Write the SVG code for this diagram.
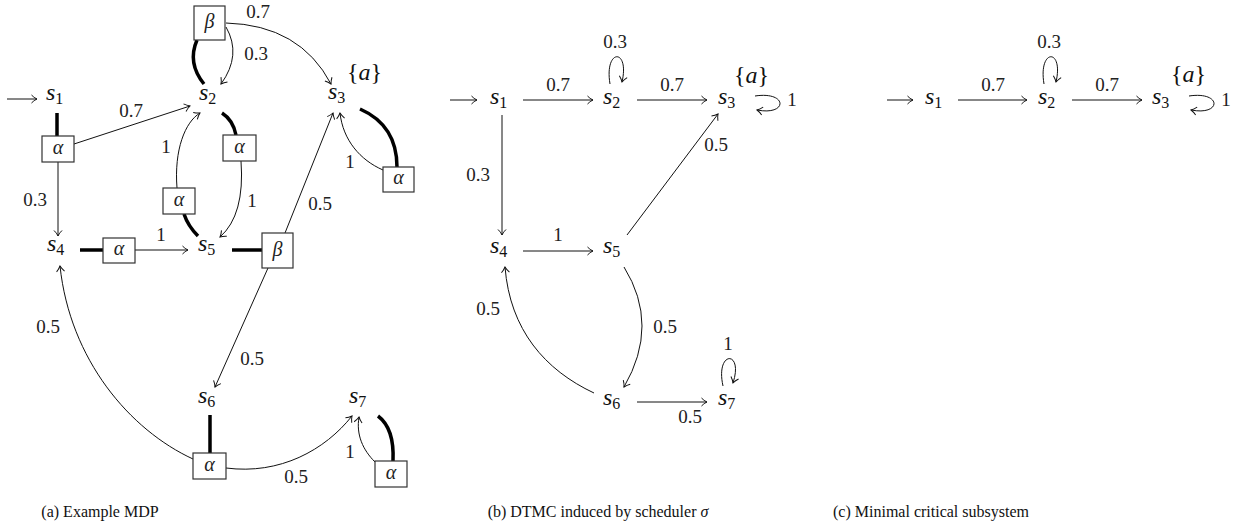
<svg xmlns="http://www.w3.org/2000/svg" width="1242" height="531" viewBox="0 0 1242 531">
<style>
.st{font-family:'Liberation Serif','DejaVu Serif',serif;font-style:italic;font-size:24px;fill:#111}
.sub{font-style:normal;font-size:16px}
.lbl{font-family:'Liberation Serif','DejaVu Serif',serif;font-size:19px;fill:#222;text-anchor:middle}
.act{font-family:'Liberation Serif','DejaVu Serif',serif;font-style:italic;font-size:20px;fill:#222;text-anchor:middle}
.box{fill:#fff;stroke:#333;stroke-width:1.2}
.e{fill:none;stroke:#111;stroke-width:1;marker-end:url(#ah)}
.th{fill:none;stroke:#000;stroke-width:3.5}
.cap{font-family:'Liberation Serif','DejaVu Serif',serif;font-size:16px;fill:#111;text-anchor:middle}
</style>
<defs>
<marker id="ah" viewBox="-7 -5 8 10" markerWidth="8" markerHeight="10" refX="0" refY="0" orient="auto" markerUnits="userSpaceOnUse">
<path d="M -5.5 -4 C -3 -1.5 -1 -0.5 0 0 C -1 0.5 -3 1.5 -5.5 4" fill="none" stroke="#111" stroke-width="1"/>
</marker>
</defs>
<rect width="1242" height="531" fill="#fff"/>

<g id="connectors">
<!-- panel a -->
<path class="e" d="M 7 99 L 37 99"/>
<path class="th" d="M 57 113 L 57 136"/>
<path class="e" d="M 58 162 L 58 236"/>
<path class="e" d="M 74 144 L 190 106"/>
<path class="th" d="M 197 40 Q 187 63 204 84"/>
<path class="e" d="M 226 23 Q 300 25 331 84"/>
<path class="e" d="M 226 27 Q 242 55 221 84"/>
<path class="th" d="M 222 113 Q 233 120 236 135"/>
<path class="e" d="M 241 161 Q 245 215 220 237"/>
<path class="th" d="M 184 214 Q 188 226 198 236"/>
<path class="e" d="M 177 188 C 174 150 185 122 200 113"/>
<path class="th" d="M 80 250 L 103 250"/>
<path class="e" d="M 135 250 L 188 250"/>
<path class="th" d="M 232 250 L 262 250"/>
<path class="e" d="M 285 233 L 333 113"/>
<path class="e" d="M 268 268 L 215 387"/>
<path class="th" d="M 210 415 L 210 453"/>
<path class="e" d="M 226 468 C 280 475 325 450 352 416"/>
<path class="e" d="M 193 459 C 130 430 70 360 60 266"/>
<path class="th" d="M 393 461 C 394 440 390 425 378 416"/>
<path class="e" d="M 375 462 C 363 450 356 435 359 417"/>
<path class="th" d="M 360 109 C 385 120 397 140 397 167"/>
<path class="e" d="M 383 170 C 360 160 343 140 340 113"/>
<!-- panel b -->
<path class="e" d="M 450 100 L 477 100"/>
<path class="e" d="M 523 100 L 593 100"/>
<path class="e" d="M 610 84 C 604 48 630 48 622 82"/>
<path class="e" d="M 637 100 L 707 100"/>
<path class="e" d="M 755 96 C 788 91 788 116 757 110"/>
<path class="e" d="M 502 115 L 502 235"/>
<path class="e" d="M 523 251 L 593 251"/>
<path class="e" d="M 627 235 L 718 114"/>
<path class="e" d="M 624 267 Q 660 325 624 387"/>
<path class="e" d="M 594 393 C 545 370 510 330 505 267"/>
<path class="e" d="M 637 402 L 707 402"/>
<path class="e" d="M 723 386 C 715 350 744 350 733 383"/>
<!-- panel c -->
<path class="e" d="M 887 100 L 913 100"/>
<path class="e" d="M 958 100 L 1027 100"/>
<path class="e" d="M 1044 84 C 1038 48 1064 48 1056 82"/>
<path class="e" d="M 1072 100 L 1142 100"/>
<path class="e" d="M 1189 96 C 1222 91 1222 116 1191 110"/>
</g>

<g id="edge-labels">
<text class="lbl" x="131" y="117">0.7</text>
<text class="lbl" x="35" y="206">0.3</text>
<text class="lbl" x="258" y="18">0.7</text>
<text class="lbl" x="256" y="60">0.3</text>
<text class="lbl" x="252" y="207">1</text>
<text class="lbl" x="166" y="153">1</text>
<text class="lbl" x="161" y="241">1</text>
<text class="lbl" x="320" y="210">0.5</text>
<text class="lbl" x="252" y="365">0.5</text>
<text class="lbl" x="296" y="483">0.5</text>
<text class="lbl" x="48" y="333">0.5</text>
<text class="lbl" x="350" y="458">1</text>
<text class="lbl" x="350" y="168">1</text>

<text class="lbl" x="558" y="91">0.7</text>
<text class="lbl" x="615" y="48">0.3</text>
<text class="lbl" x="672" y="91">0.7</text>
<text class="lbl" x="792" y="106">1</text>
<text class="lbl" x="478" y="181">0.3</text>
<text class="lbl" x="558" y="241">1</text>
<text class="lbl" x="716" y="151">0.5</text>
<text class="lbl" x="665" y="333">0.5</text>
<text class="lbl" x="488" y="315">0.5</text>
<text class="lbl" x="690" y="423">0.5</text>
<text class="lbl" x="728" y="350">1</text>

<text class="lbl" x="993" y="91">0.7</text>
<text class="lbl" x="1049" y="48">0.3</text>
<text class="lbl" x="1107" y="91">0.7</text>
<text class="lbl" x="1226" y="106">1</text>
</g>

<!-- panel a nodes -->
<g id="a-s1"><text class="st" x="46" y="100">s<tspan class="sub" dy="4">1</tspan></text></g>
<g id="a-s2"><text class="st" x="199" y="100">s<tspan class="sub" dy="4">2</tspan></text></g>
<g id="a-s3"><text class="st" x="328" y="99">s<tspan class="sub" dy="4">3</tspan></text><text class="st" x="347" y="80" style="font-style:normal">{<tspan style="font-style:italic">a</tspan>}</text></g>
<g id="a-s4"><text class="st" x="47" y="251">s<tspan class="sub" dy="4">4</tspan></text></g>
<g id="a-s5"><text class="st" x="198" y="251">s<tspan class="sub" dy="4">5</tspan></text></g>
<g id="a-s6"><text class="st" x="198" y="403">s<tspan class="sub" dy="4">6</tspan></text></g>
<g id="a-s7"><text class="st" x="349" y="403">s<tspan class="sub" dy="4">7</tspan></text></g>

<g id="a-s1-alpha"><rect class="box" x="42" y="136" width="32" height="26"/><text class="act" x="58" y="154">α</text></g>
<g id="a-s2-beta"><rect class="box" x="194" y="6" width="31" height="34"/><text class="act" x="209.5" y="28">β</text></g>
<g id="a-s2-alpha"><rect class="box" x="223" y="135" width="33" height="26"/><text class="act" x="239.5" y="153">α</text></g>
<g id="a-s5-alpha"><rect class="box" x="163" y="188" width="32" height="26"/><text class="act" x="179" y="206">α</text></g>
<g id="a-s4-alpha"><rect class="box" x="103" y="238" width="32" height="25"/><text class="act" x="119" y="255">α</text></g>
<g id="a-s5-beta"><rect class="box" x="262" y="233" width="31" height="35"/><text class="act" x="277.5" y="256">β</text></g>
<g id="a-s3-alpha"><rect class="box" x="383" y="167" width="31" height="25"/><text class="act" x="398.5" y="184">α</text></g>
<g id="a-s6-alpha"><rect class="box" x="193" y="453" width="33" height="26"/><text class="act" x="209.5" y="471">α</text></g>
<g id="a-s7-alpha"><rect class="box" x="375" y="461" width="32" height="26"/><text class="act" x="391" y="479">α</text></g>

<!-- panel b nodes -->
<g id="b-s1"><text class="st" x="490" y="104">s<tspan class="sub" dy="4">1</tspan></text></g>
<g id="b-s2"><text class="st" x="603" y="104">s<tspan class="sub" dy="4">2</tspan></text></g>
<g id="b-s3"><text class="st" x="718" y="104">s<tspan class="sub" dy="4">3</tspan></text><text class="st" x="734" y="83" style="font-style:normal">{<tspan style="font-style:italic">a</tspan>}</text></g>
<g id="b-s4"><text class="st" x="490" y="253">s<tspan class="sub" dy="4">4</tspan></text></g>
<g id="b-s5"><text class="st" x="603" y="253">s<tspan class="sub" dy="4">5</tspan></text></g>
<g id="b-s6"><text class="st" x="603" y="405">s<tspan class="sub" dy="4">6</tspan></text></g>
<g id="b-s7"><text class="st" x="718" y="405">s<tspan class="sub" dy="4">7</tspan></text></g>

<!-- panel c nodes -->
<g id="c-s1"><text class="st" x="925" y="104">s<tspan class="sub" dy="4">1</tspan></text></g>
<g id="c-s2"><text class="st" x="1038" y="104">s<tspan class="sub" dy="4">2</tspan></text></g>
<g id="c-s3"><text class="st" x="1152" y="104">s<tspan class="sub" dy="4">3</tspan></text><text class="st" x="1171" y="82" style="font-style:normal">{<tspan style="font-style:italic">a</tspan>}</text></g>

<g id="captions">
<text class="cap" x="100" y="517">(a) Example MDP</text>
<text class="cap" x="598" y="517">(b) DTMC induced by scheduler <tspan style="font-style:italic">σ</tspan></text>
<text class="cap" x="931" y="517">(c) Minimal critical subsystem</text>
</g>
</svg>
